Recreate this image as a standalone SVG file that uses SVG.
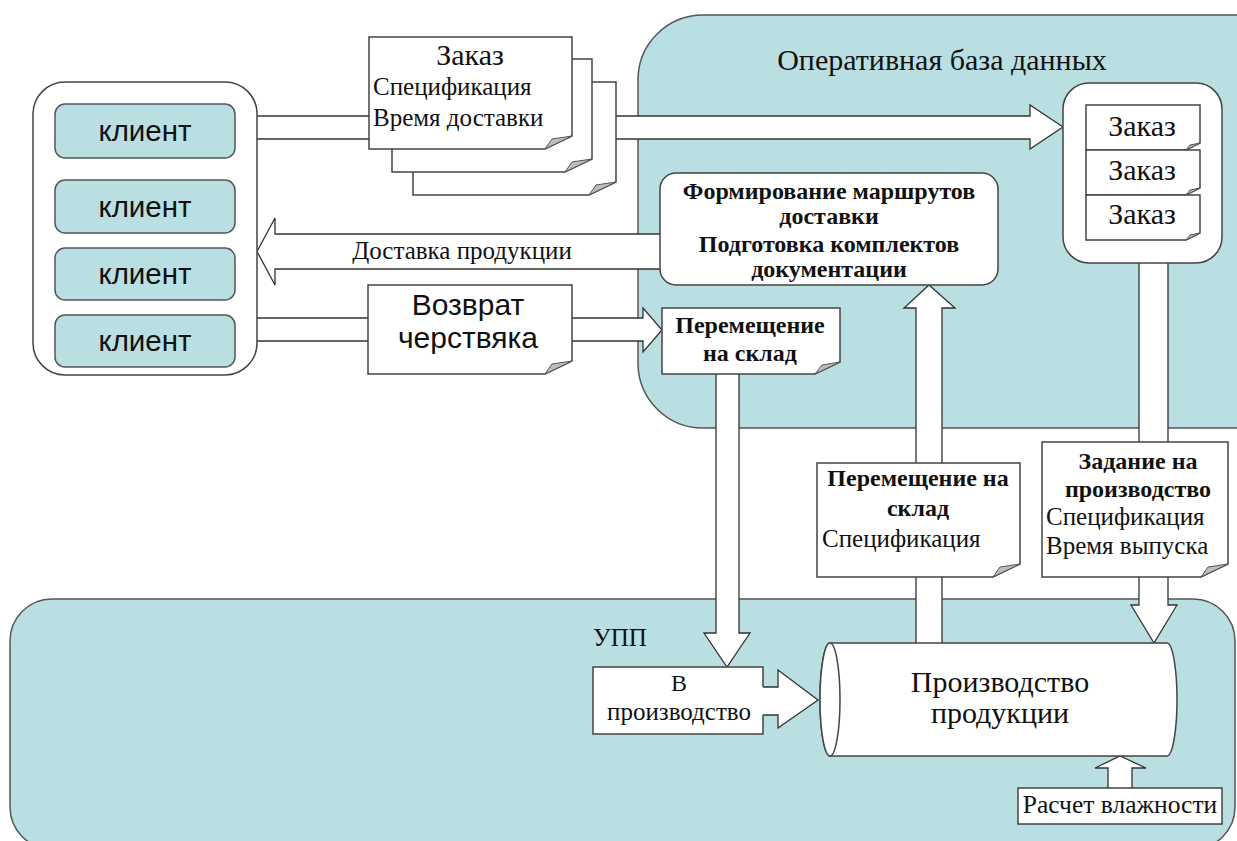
<svg xmlns="http://www.w3.org/2000/svg" width="1237" height="841" viewBox="0 0 1237 841">
<defs>
<style>
.cont{fill:#b9dfe2;stroke:#555;stroke-width:1.5}
.wbox{fill:#fff;stroke:#444;stroke-width:1.5}
.cli{fill:#b9dfe2;stroke:#555;stroke-width:1.5}
.arr{fill:#fff;stroke:#333;stroke-width:1.3;stroke-linejoin:miter}
.doc{fill:#fff;stroke:#444;stroke-width:1.5}
.fold{fill:#bdbdbd;stroke:#555;stroke-width:1}
.tr{font-family:"Liberation Serif","Times New Roman",serif;fill:#111}
.b{font-weight:bold}
.ar{font-family:"Liberation Sans",Arial,sans-serif;fill:#111}
.m{text-anchor:middle}
</style>
</defs>
<rect width="1237" height="841" fill="#fff"/>

<g id="db">
<rect class="cont" x="638" y="15" width="680" height="413" rx="65"/>
<text class="tr m" x="942" y="70" font-size="30">Оперативная база данных</text>
</g>
<g id="upp">
<rect class="cont" x="10" y="599" width="1225" height="250" rx="42"/>
<text class="tr" x="593" y="646" font-size="25">УПП</text>
</g>

<g id="connectors">
<polygon class="arr" points="250,116 1030,116 1030,105 1063,127 1030,149 1030,139 250,139"/>
<polygon class="arr" points="670,234 275,234 275,218 257,251.5 275,285 275,269 670,269"/>
<polygon class="arr" points="250,318 643,318 643,308 662,330 643,352 643,341 250,341"/>
<polygon class="arr" points="716,365 739,365 739,633 750,633 727,667 704,633 716,633"/>
<polygon class="arr" points="755,687 778,687 778,670 818,700 778,728 778,715 755,715"/>
<polygon class="arr" points="916,660 916,308 904,308 929,285 955,308 942,308 942,660"/>
<polygon class="arr" points="1139,255 1168,255 1168,605 1177,605 1154,643 1131,605 1139,605"/>
<polygon class="arr" points="1108,800 1108,768 1095,768 1120,756 1146,768 1132,768 1132,800"/>
</g>

<g id="clients">
<rect class="wbox" x="33" y="82" width="224" height="293" rx="32"/>
<rect class="cli" x="55" y="104" width="180" height="54" rx="10"/>
<text class="ar m" x="145" y="141" font-size="29.5">клиент</text>
<rect class="cli" x="55" y="180" width="180" height="53" rx="10"/>
<text class="ar m" x="145" y="217" font-size="29.5">клиент</text>
<rect class="cli" x="55" y="248" width="180" height="52" rx="10"/>
<text class="ar m" x="145" y="284" font-size="29.5">клиент</text>
<rect class="cli" x="55" y="315" width="180" height="52" rx="10"/>
<text class="ar m" x="145" y="351" font-size="29.5">клиент</text>
</g>

<g id="order-docs">
<path class="doc" d="M413,82 H616 V182 L589,195 H413 Z"/>
<polygon class="fold" points="589,195 596,185 616,182"/>
<path class="doc" d="M392,59 H592 V159 L565,172 H392 Z"/>
<polygon class="fold" points="565,172 572,162 592,159"/>
<path class="doc" d="M369,37 H572 V136 L545,149 H369 Z"/>
<polygon class="fold" points="545,149 552,139 572,136"/>
<text class="tr m" x="470" y="65" font-size="30">Заказ</text>
<text class="tr" x="373" y="95" font-size="25">Спецификация</text>
<text class="tr" x="373" y="126" font-size="25">Время доставки</text>
</g>

<g id="orders-db">
<rect class="wbox" x="1063" y="83" width="159" height="180" rx="26"/>
<path class="doc" d="M1086,105 H1200 V143 L1186,150 H1086 Z"/>
<polygon class="fold" points="1186,150 1190,145 1200,143"/>
<path class="doc" d="M1086,150 H1200 V188 L1186,195 H1086 Z"/>
<polygon class="fold" points="1186,195 1190,190 1200,188"/>
<path class="doc" d="M1086,195 H1200 V233 L1186,240 H1086 Z"/>
<polygon class="fold" points="1186,240 1190,235 1200,233"/>
<text class="tr m" x="1142" y="136" font-size="30">Заказ</text>
<text class="tr m" x="1142" y="180" font-size="30">Заказ</text>
<text class="tr m" x="1142" y="224" font-size="30">Заказ</text>
</g>

<g id="routes">
<rect class="wbox" x="660" y="173" width="338" height="112" rx="16"/>
<text class="tr b m" x="829" y="199" font-size="24">Формирование маршрутов</text>
<text class="tr b m" x="829" y="224" font-size="24">доставки</text>
<text class="tr b m" x="829" y="252" font-size="24">Подготовка комплектов</text>
<text class="tr b m" x="829" y="277" font-size="24">документации</text>
</g>

<text class="tr m" x="462" y="259" font-size="25">Доставка продукции</text>

<g id="return">
<path class="doc" d="M368,285 H572 V361 L545,374 H368 Z"/>
<polygon class="fold" points="545,374 552,364 572,361"/>
<text class="ar m" x="468" y="315" font-size="30">Возврат</text>
<text class="ar m" x="468" y="348" font-size="30">черствяка</text>
</g>

<g id="move1">
<path class="doc" d="M662,308 H840 V362 L815,374 H662 Z"/>
<polygon class="fold" points="815,374 822,365 840,362"/>
<text class="tr b m" x="750" y="333" font-size="24">Перемещение</text>
<text class="tr b m" x="750" y="361" font-size="24">на склад</text>
</g>

<g id="move2">
<path class="doc" d="M817,463 H1020 V564 L993,577 H817 Z"/>
<polygon class="fold" points="993,577 1000,567 1020,564"/>
<text class="tr b m" x="918" y="486" font-size="24">Перемещение на</text>
<text class="tr b m" x="918" y="516" font-size="24">склад</text>
<text class="tr" x="822" y="547" font-size="25">Спецификация</text>
</g>

<g id="task">
<path class="doc" d="M1042,442 H1228 V564 L1201,577 H1042 Z"/>
<polygon class="fold" points="1201,577 1208,567 1228,564"/>
<text class="tr b m" x="1138" y="469" font-size="24">Задание на</text>
<text class="tr b m" x="1138" y="497" font-size="24">производство</text>
<text class="tr" x="1046" y="525" font-size="25">Спецификация</text>
<text class="tr" x="1046" y="554" font-size="25">Время выпуска</text>
</g>

<g id="to-prod">
<path class="wbox" d="M763,687 V667 H593 V734 H763 V715"/>
<text class="tr m" x="679" y="691" font-size="24">В</text>
<text class="tr m" x="679" y="720" font-size="25">производство</text>
</g>

<g id="production">
<path class="wbox" d="M830,643 H1167 A10,56.5 0 0 1 1167,756 H830 A10,56.5 0 0 1 830,643 Z"/>
<ellipse class="wbox" cx="830" cy="699.5" rx="10" ry="56.5"/>
<text class="tr m" x="1000" y="692" font-size="30">Производство</text>
<text class="tr m" x="1000" y="723" font-size="30">продукции</text>
</g>

<g id="humidity">
<rect class="wbox" x="1018" y="788" width="204" height="36"/>
<text class="tr m" x="1120" y="813" font-size="25.5">Расчет влажности</text>
</g>
</svg>
